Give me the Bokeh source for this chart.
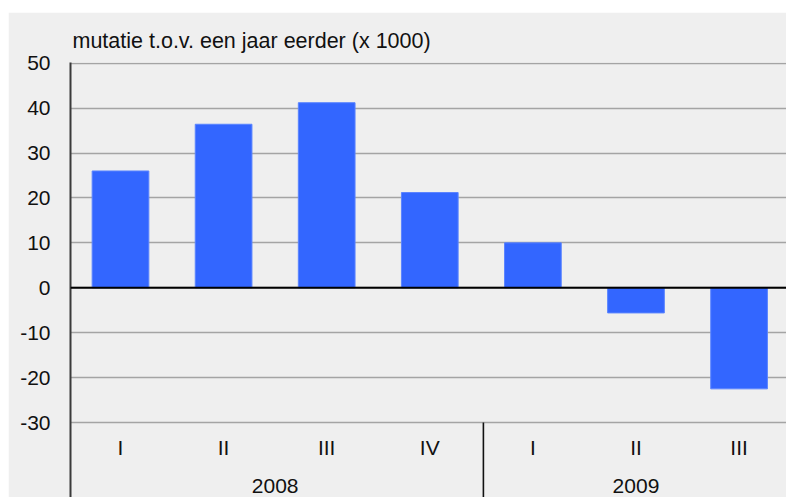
from bokeh.plotting import figure
from bokeh.models import Range1d, FixedTicker, Span
from bokeh.core.properties import value
from bokeh.embed import file_html
from bokeh.resources import INLINE

# ---- data ----
years = ["2008", "2009"]
quarters_per_year = [4, 3]
quarter_labels = ["I", "II", "III", "IV", "I", "II", "III"]
values = [26.0, 36.4, 41.2, 21.2, 10.0, -5.6, -22.5]
y_ticks = [-30, -20, -10, 0, 10, 20, 30, 40, 50]
title_text = "mutatie t.o.v. een jaar eerder (x 1000)"

FONT = "Liberation Sans"
TXT = "#111111"
BG = "#efefef"

# ---- geometry of the frame (pixels) ----
FIG_W, FIG_H = 778, 485
BORDER_TOP, BORDER_LEFT = 50, 62
Y_TOP = 50.15
SCALE = 4.492
Y_BOT = Y_TOP - (FIG_H - BORDER_TOP) / SCALE


def py_to_val(py):
    """pixel row inside the figure (0 = figure top) -> data value"""
    return Y_TOP - (py - BORDER_TOP) / SCALE


n = len(values)
x_pos = [float(i) + 0.5 for i in range(n)]
bounds = [0.0]
for q in quarters_per_year:
    bounds.append(bounds[-1] + q)
year_centres = [float((bounds[i] + bounds[i + 1]) / 2) for i in range(len(years))]

p = figure(width=FIG_W, height=FIG_H, output_backend="svg", toolbar_location=None,
           x_range=Range1d(0.015, 6.96), y_range=Range1d(Y_BOT, Y_TOP),
           x_axis_type=None, min_border_left=BORDER_LEFT, min_border_right=0,
           min_border_top=BORDER_TOP, min_border_bottom=0)
p.margin = (12, 0, 0, 8)
p.background_fill_color = BG
p.border_fill_color = BG
p.outline_line_color = None

p.title.text = title_text
p.title.align = "left"
p.title.offset = 2
p.title.standoff = 19
p.title.text_font = FONT
p.title.text_font_size = "21.5px"
p.title.text_font_style = "normal"
p.title.text_color = TXT

p.xgrid.visible = False
p.ygrid.ticker = FixedTicker(ticks=y_ticks)
p.ygrid.grid_line_color = "#a4a4a4"
p.ygrid.grid_line_width = 1.5

yax = p.yaxis[0]
yax.ticker = FixedTicker(ticks=y_ticks)
yax.major_label_overrides = {t: str(t) for t in y_ticks}
yax.axis_line_color = "#3a3a3a"
yax.axis_line_width = 2
yax.major_tick_line_color = None
yax.minor_tick_line_color = None
yax.major_label_standoff = 14
yax.major_label_text_font = FONT
yax.major_label_text_font_size = "21px"
yax.major_label_text_color = TXT

p.vbar(x=x_pos, top=values, bottom=0, width=0.55,
       fill_color="#3366ff", line_color="#5a84ff", line_width=1)

p.add_layout(Span(location=0, dimension="width", line_color="black", line_width=2))

# separators between years, below the value area
sep_x = [b + 0.02 for b in bounds[1:-1]]
p.segment(x0=sep_x, y0=[y_ticks[0]] * len(sep_x), x1=sep_x, y1=[Y_BOT] * len(sep_x),
          line_color="#111111", line_width=1.6)

# category labels (quarters) and group labels (years)
p.text(x=x_pos, y=[py_to_val(434.5)] * n, text=quarter_labels,
       text_font=value(FONT), text_font_size="21px", text_color=TXT,
       text_align="center", text_baseline="alphabetic")
p.text(x=year_centres, y=[py_to_val(473)] * len(years), text=years,
       text_font=value(FONT), text_font_size="21px", text_color=TXT,
       text_align="center", text_baseline="alphabetic")

open("out.html", "w").write(file_html(p, INLINE))
